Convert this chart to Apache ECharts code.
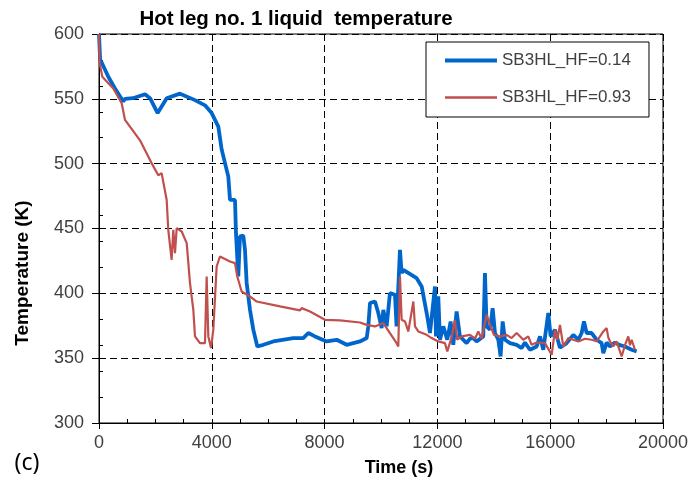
<!DOCTYPE html>
<html>
<head>
<meta charset="utf-8">
<script src="https://cdn.jsdelivr.net/npm/echarts@6/dist/echarts.min.js"></script>
<style>html,body{margin:0;padding:0;background:#fff}#c{width:691px;height:483px}</style>
</head>
<body>
<div id="c"></div>
<script>
const seriesNames = ['SB3HL_HF=0.14', 'SB3HL_HF=0.93'];
const xTicks = [0, 4000, 8000, 12000, 16000, 20000];
const yTicks = [300, 350, 400, 450, 500, 550, 600];

const blueTime = [0, 40, 95, 330, 567, 862, 922, 1200, 1631, 1809, 2080, 2400, 2872, 3404, 3759, 3996, 4231, 4350, 4468, 4586, 4645, 4823, 4858, 4940, 5000, 5118, 5177, 5236, 5354, 5472, 5614, 5827, 6181, 6890, 7245, 7422, 7660, 8074, 8429, 8784, 9256, 9493, 9550, 9610, 9787, 9905, 10023, 10082, 10200, 10318, 10496, 10553, 10673, 10733, 10792, 11265, 11443, 11620, 11738, 11915, 11950, 12032, 12092, 12210, 12351, 12469, 12564, 12682, 12800, 13036, 13156, 13273, 13392, 13628, 13687, 13746, 13864, 13960, 14042, 14160, 14243, 14314, 14397, 14574, 14810, 14988, 15106, 15284, 15520, 15638, 15756, 15933, 16017, 16170, 16347, 16583, 16820, 16997, 17115, 17198, 17293, 17470, 17647, 17825, 17884, 18002, 18120, 18297, 18475, 18652, 18889, 19066];
const blueTemp = [600, 580, 578, 567, 558, 548, 550, 550.5, 553.5, 550.5, 539, 550.5, 554, 549, 545, 539, 528.6, 511, 500.4, 490, 472, 472, 446, 413, 444, 444.5, 433.6, 408, 387.3, 372, 359, 360.3, 362.9, 365.5, 365.5, 369.4, 366.8, 362.9, 364.2, 360.3, 362.9, 365.5, 374.5, 392.5, 393.7, 384.8, 373.2, 387.3, 374.5, 400.2, 398.9, 374.5, 433.6, 415.6, 418, 411.7, 405.3, 384.8, 369.4, 405.3, 366.8, 397.6, 364.2, 374.5, 364.2, 378.3, 360.3, 386, 366.8, 361.6, 365, 365.5, 362.9, 366.8, 415.6, 374.5, 372, 388.6, 369.4, 364.2, 351.3, 378.3, 364.2, 361.6, 360.3, 357.8, 362, 356.5, 359, 366.8, 356.5, 384.8, 366.8, 371.9, 358, 361.6, 368, 364.2, 369.4, 378.3, 369.4, 369.4, 364.2, 361.6, 353.9, 362, 359, 362, 360, 359, 356.5, 355.2];

const redTime = [0, 20, 117, 507, 805, 922, 1454, 1850, 2103, 2221, 2400, 2457, 2575, 2635, 2695, 2755, 2933, 3110, 3227, 3345, 3404, 3581, 3759, 3818, 3877, 3972, 4054, 4172, 4290, 4645, 4823, 4904, 5059, 5354, 5591, 6419, 7128, 7187, 7482, 8014, 8547, 9256, 9493, 9787, 10082, 10553, 10614, 10673, 10733, 10851, 10969, 11147, 11206, 11324, 11620, 11797, 12032, 12269, 12351, 12505, 12623, 12705, 12859, 13156, 13333, 13450, 13569, 13746, 13888, 14007, 14219, 14456, 14633, 14810, 15047, 15224, 15343, 15520, 15815, 16053, 16170, 16252, 16347, 16465, 16643, 16997, 17233, 17470, 17647, 17766, 17884, 18002, 18060, 18120, 18238, 18357, 18534, 18652, 18770, 18830, 18889, 19007];
const redTemp = [600, 578, 567, 558, 546.6, 533.7, 518, 501, 491, 492.7, 472, 449, 425.8, 449, 431, 450.3, 447.7, 438.7, 407.9, 387.3, 366.8, 361.6, 361.6, 413, 366.8, 357.8, 372, 420.7, 428.4, 424.5, 423.3, 413, 401.4, 397.6, 393.7, 389.9, 386.8, 388.6, 386, 379.6, 379.1, 377.5, 375.7, 374.5, 377.1, 361.6, 359, 413, 379.6, 378.3, 370.6, 393.7, 374.5, 370.6, 368, 365.5, 362.9, 361.6, 355.2, 366, 379.6, 364.2, 366.8, 368, 365, 370.6, 365, 383.5, 374.5, 368, 366.8, 368, 365.5, 369.4, 364.2, 366.8, 360.3, 362, 361.6, 352.6, 371.9, 364, 375.7, 359, 365.5, 362.9, 365, 364.2, 363, 366.8, 370.6, 373.2, 366, 363, 359, 363, 351.3, 360, 366.8, 360, 364.2, 356.5];

const zip = (a, b) => a.map((v, i) => [v, b[i]]);
const F = 'Liberation Sans, Arial, sans-serif';
const chart = echarts.init(document.getElementById('c'), null, {renderer: 'canvas'});
chart.setOption({
  animation: false,
  backgroundColor: '#fff',
  grid: {left: 99, top: 34, width: 564, height: 389, show: true, borderColor: '#000', borderWidth: 1, backgroundColor: 'transparent'},
  xAxis: [{
    type: 'value', min: xTicks[0], max: xTicks[xTicks.length - 1], interval: 4000,
    axisLine: {onZero: false, lineStyle: {color: '#000', width: 1}},
    axisTick: {length: 6, lineStyle: {color: '#000'}},
    axisLabel: {fontSize: 18, margin: 11, color: '#404040', fontFamily: F, formatter: v => String(v)},
    splitLine: {show: true, lineStyle: {color: '#000', type: [7, 4], width: 1}}
  }, {
    type: 'value', min: 0, max: 20000, interval: 1000, position: 'bottom',
    axisLine: {show: false, onZero: false},
    axisTick: {inside: true, length: 4, lineStyle: {color: '#000'}},
    axisLabel: {show: false}, splitLine: {show: false}
  }],
  yAxis: [{
    type: 'value', min: yTicks[0], max: yTicks[yTicks.length - 1], interval: 50,
    axisLine: {show: true, onZero: false, lineStyle: {color: '#000', width: 1}},
    axisTick: {show: true, length: 7, lineStyle: {color: '#000'}},
    axisLabel: {fontSize: 18, margin: 15, color: '#404040', fontFamily: F},
    splitLine: {show: true, lineStyle: {color: '#000', type: [7, 4], width: 1}}
  }, {
    type: 'value', min: 300, max: 600, interval: 20, position: 'left',
    axisLine: {show: false, onZero: false},
    axisTick: {show: true, inside: true, length: 4, lineStyle: {color: '#000'}},
    axisLabel: {show: false}, splitLine: {show: false}
  }],
  legend: {
    orient: 'vertical', left: 426, top: 42,
    padding: [10, 18, 11, 19], itemWidth: 52, itemHeight: 4, itemGap: 20,
    borderColor: '#000', borderWidth: 1, backgroundColor: '#fff',
    textStyle: {fontSize: 17, lineHeight: 17, color: '#404040', fontFamily: F},
    data: [
      {name: seriesNames[0], icon: 'path://M0,0H52V4H0Z'},
      {name: seriesNames[1], icon: 'path://M0,0.8H52V3.2H0Z M0,0H0.01V0.01H0Z M0,3.99H0.01V4H0Z'}
    ]
  },
  series: [{
    name: seriesNames[0], type: 'line', symbol: 'none', showSymbol: false,
    xAxisIndex: 0, yAxisIndex: 0,
    lineStyle: {color: '#0066CC', width: 3.8}, itemStyle: {color: '#0066CC'},
    data: zip(blueTime, blueTemp)
  }, {
    name: seriesNames[1], type: 'line', symbol: 'none', showSymbol: false,
    xAxisIndex: 0, yAxisIndex: 0,
    lineStyle: {color: '#C0504D', width: 2.2}, itemStyle: {color: '#C0504D'},
    data: zip(redTime, redTemp)
  }],
  graphic: [
    {type: 'text', x: 296, y: 19, style: {text: 'Hot leg no. 1 liquid  temperature', font: 'bold 20.5px ' + F, fill: '#000', textAlign: 'center', textVerticalAlign: 'middle'}},
    {type: 'text', x: 23, y: 273, rotation: Math.PI / 2, style: {text: 'Temperature (K)', font: 'bold 19px ' + F, fill: '#000', textAlign: 'center', textVerticalAlign: 'middle'}},
    {type: 'text', x: 399, y: 468, style: {text: 'Time (s)', font: 'bold 18px ' + F, fill: '#000', textAlign: 'center', textVerticalAlign: 'middle'}},
    {type: 'text', x: 27, y: 463, style: {text: '(c)', font: '23px "Noto Sans", sans-serif', fill: '#000', textAlign: 'center', textVerticalAlign: 'middle'}}
  ]
});
</script>
</body>
</html>
